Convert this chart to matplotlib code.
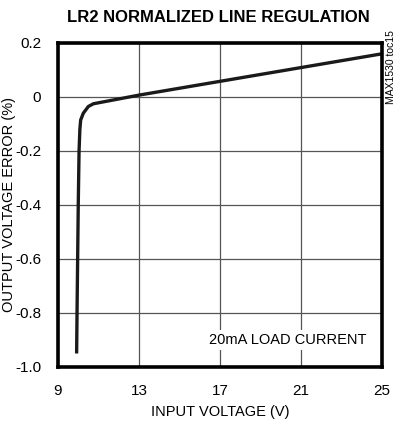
import matplotlib
matplotlib.use("Agg")
import matplotlib.pyplot as plt

plt.rcParams['font.family'] = ['Liberation Sans', 'DejaVu Sans']

# data
vin = [9.92, 9.94, 9.97, 10.0, 10.04, 10.08, 10.12, 10.25, 10.5, 10.75, 13.0, 17.0, 21.0, 25.0]
err = [-0.95, -0.8, -0.6, -0.4, -0.2, -0.12, -0.085, -0.06, -0.035, -0.025, 0.007, 0.058, 0.109, 0.16]
xticks = [9, 13, 17, 21, 25]
yticks = [0.2, 0, -0.2, -0.4, -0.6, -0.8, -1.0]
ytick_labels = ["0.2", "0", "-0.2", "-0.4", "-0.6", "-0.8", "-1.0"]

fig = plt.figure(figsize=(4.01, 4.29), dpi=100)
W, H = 401, 429
ax = fig.add_axes([58 / W, 1 - 367 / H, 324 / W, 324 / H])
ax.plot(vin, err, color="#1a1a1a", lw=2.4, solid_capstyle="butt")
ax.set_xlim(9, 25)
ax.set_ylim(-1.0, 0.2)
ax.set_xticks(xticks)
ax.set_yticks(yticks)
ax.set_yticklabels(ytick_labels)
ax.grid(True, color="#555555", lw=0.9)
ax.set_axisbelow(True)
ax.tick_params(axis="y", length=0, labelsize=11, pad=12)
ax.tick_params(axis="x", length=0, labelsize=11, pad=12)
for s in ax.spines.values():
    s.set_linewidth(2.6)
    s.set_color("black")
ax.set_xlabel("INPUT VOLTAGE (V)", fontsize=10.5, labelpad=5)
ax.set_ylabel("OUTPUT VOLTAGE ERROR (%)", fontsize=10.5)
ax.yaxis.set_label_coords(-42 / 324, 0.5)
fig.text(218 / W, 1 - 18 / H, "LR2 NORMALIZED LINE REGULATION", ha="center", va="center",
         fontsize=12, fontweight="bold")
ax.text(20.35, -0.9, "20mA LOAD CURRENT", ha="center", va="center", fontsize=10.5,
        bbox=dict(facecolor="white", edgecolor="none", pad=2))
fig.text(391 / W, 1 - 67 / H, "MAX1530 toc15", rotation=90, ha="center", va="center", fontsize=7.5)
fig.savefig("out.png", dpi=100)
